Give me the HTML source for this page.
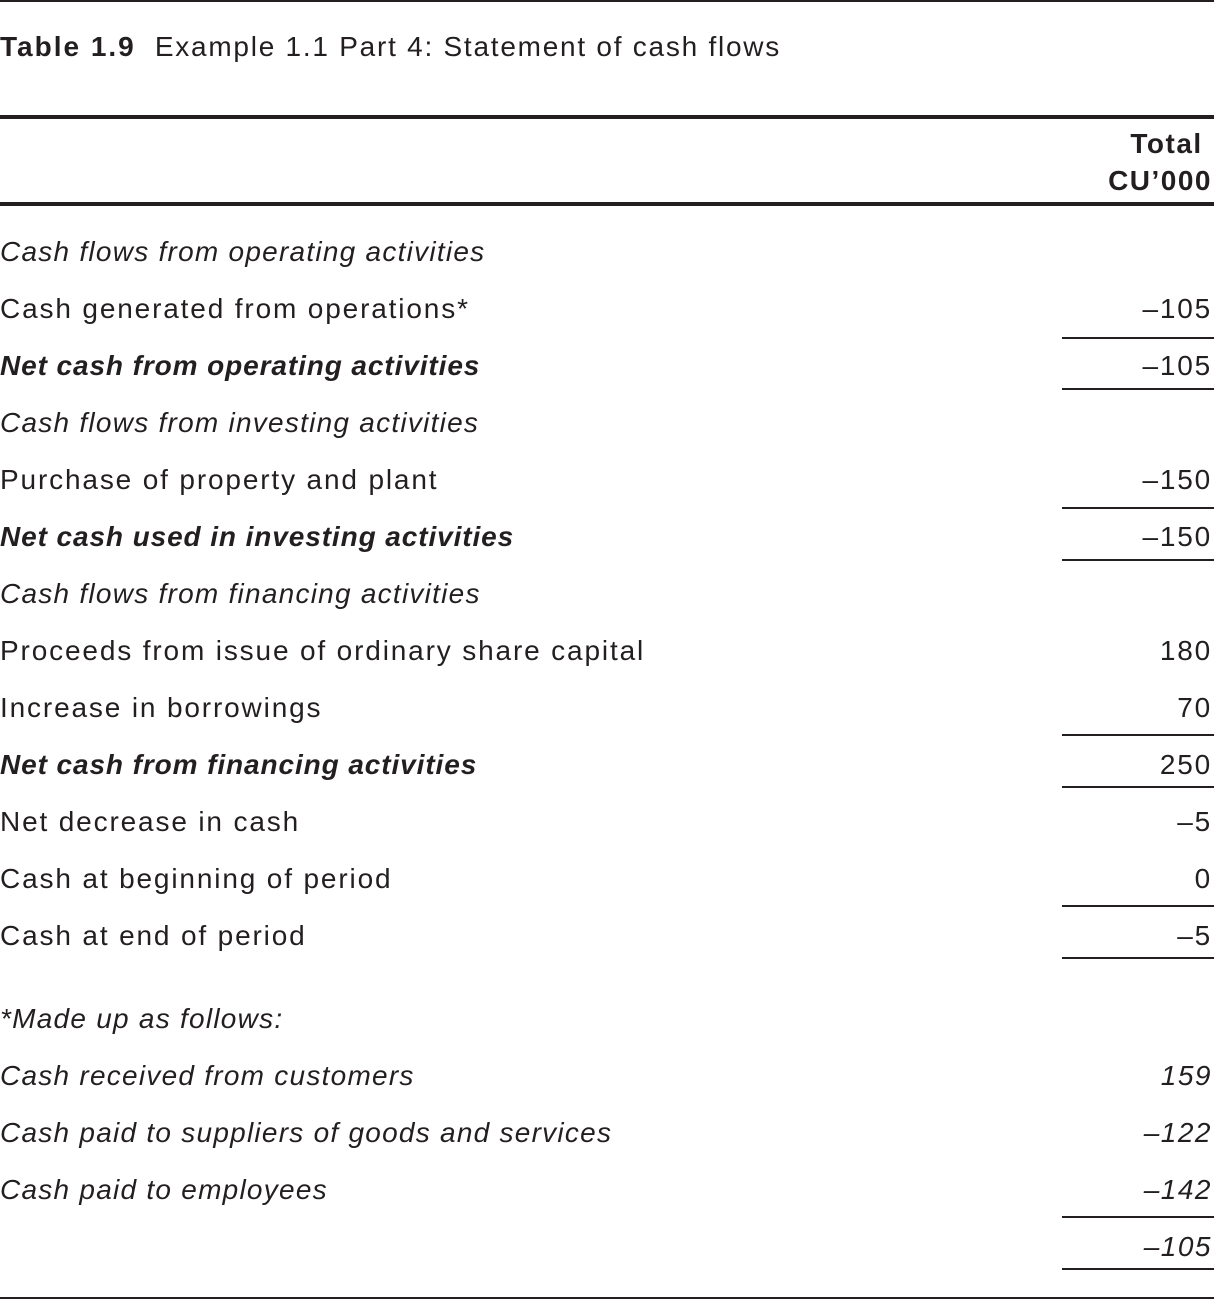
<!DOCTYPE html>
<html><head><meta charset="utf-8"><style>
body{margin:0;width:1214px;height:1300px;background:#fff;position:relative;overflow:hidden;font-family:"Liberation Sans",sans-serif;color:#231f20}
.l{position:absolute;left:0;font-size:28px;line-height:36px;white-space:nowrap;letter-spacing:1.85px}
.v{position:absolute;right:2px;font-size:28px;line-height:36px;text-align:right;white-space:nowrap;letter-spacing:1.8px}
.i{font-style:italic;letter-spacing:1.25px}.b{font-weight:bold;font-style:italic;letter-spacing:0.9px}
.v.i{letter-spacing:1.5px}
.hr{position:absolute;left:0;width:1214px;background:#231f20}
.u{position:absolute;left:1062px;width:152px;height:2px;background:#231f20}
</style></head><body>
<div class="hr" style="top:0;height:2px"></div>
<div class="l" style="top:29px;letter-spacing:1.75px"><b style="letter-spacing:2px">Table 1.9</b>&nbsp;&nbsp;Example 1.1 Part 4: Statement of cash flows</div>
<div class="hr" style="top:115px;height:4px"></div>
<div class="v" style="top:125px;font-weight:bold;line-height:37px;right:2px;letter-spacing:1.5px">Total&nbsp;<br>CU’000</div>
<div class="hr" style="top:202px;height:4px"></div>

<div class="l i" style="top:234px">Cash flows from operating activities</div>
<div class="l" style="top:291px">Cash generated from operations*</div><div class="v" style="top:291px">–105</div>
<div class="u" style="top:337px"></div>
<div class="l b" style="top:348px">Net cash from operating activities</div><div class="v" style="top:348px">–105</div>
<div class="u" style="top:388px"></div>
<div class="l i" style="top:405px">Cash flows from investing activities</div>
<div class="l" style="top:462px">Purchase of property and plant</div><div class="v" style="top:462px">–150</div>
<div class="u" style="top:507px"></div>
<div class="l b" style="top:519px">Net cash used in investing activities</div><div class="v" style="top:519px">–150</div>
<div class="u" style="top:559px"></div>
<div class="l i" style="top:576px">Cash flows from financing activities</div>
<div class="l" style="top:633px">Proceeds from issue of ordinary share capital</div><div class="v" style="top:633px">180</div>
<div class="l" style="top:690px">Increase in borrowings</div><div class="v" style="top:690px">70</div>
<div class="u" style="top:734px"></div>
<div class="l b" style="top:747px">Net cash from financing activities</div><div class="v" style="top:747px">250</div>
<div class="u" style="top:786px"></div>
<div class="l" style="top:804px">Net decrease in cash</div><div class="v" style="top:804px">–5</div>
<div class="l" style="top:861px">Cash at beginning of period</div><div class="v" style="top:861px">0</div>
<div class="u" style="top:905px"></div>
<div class="l" style="top:918px">Cash at end of period</div><div class="v" style="top:918px">–5</div>
<div class="u" style="top:957px"></div>

<div class="l i" style="top:1001px">*Made up as follows:</div>
<div class="l i" style="top:1058px">Cash received from customers</div><div class="v i" style="top:1058px">159</div>
<div class="l i" style="top:1115px">Cash paid to suppliers of goods and services</div><div class="v i" style="top:1115px">–122</div>
<div class="l i" style="top:1172px">Cash paid to employees</div><div class="v i" style="top:1172px">–142</div>
<div class="u" style="top:1216px"></div>
<div class="v i" style="top:1229px">–105</div>
<div class="u" style="top:1268px"></div>
<div class="hr" style="top:1297px;height:2px"></div>
</body></html>
